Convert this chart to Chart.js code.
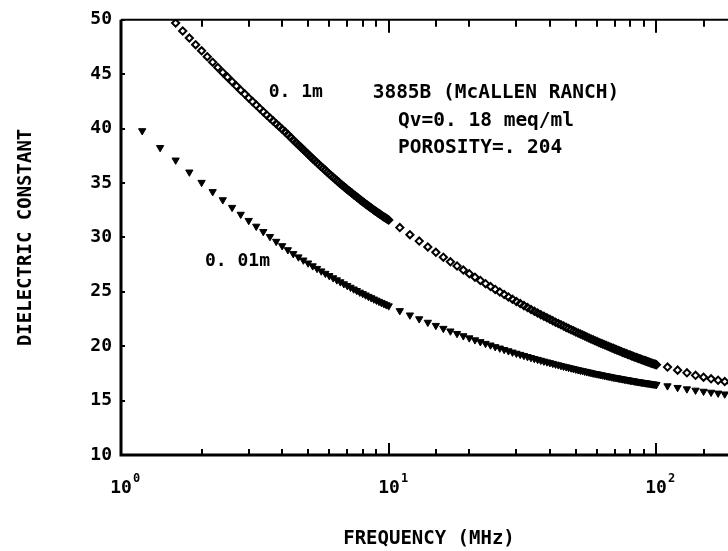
<!DOCTYPE html>
<html>
<head>
<meta charset="utf-8">
<script src="https://cdn.jsdelivr.net/npm/chart.js@4.4.1/dist/chart.umd.min.js"></script>
<style>
  html, body { margin: 0; padding: 0; background: #fff; overflow: hidden; }
  canvas { display: block; }
</style>
</head>
<body>
<canvas id="chart" width="745" height="551"></canvas>
<script>
// frequencies (MHz)
const freqDiamondLow = [
  1.6, 1.7, 1.8, 1.9, 2.0, 2.1, 2.2, 2.3, 2.4, 2.5,
  2.6, 2.7, 2.8, 2.9, 3.0, 3.1, 3.2, 3.3, 3.4, 3.5,
  3.6, 3.7, 3.8, 3.9, 4.0, 4.1, 4.2, 4.3, 4.4, 4.5,
  4.6, 4.7, 4.8, 4.9, 5.0, 5.1, 5.2, 5.3, 5.4, 5.5,
  5.6, 5.7, 5.8, 5.9, 6.0, 6.1, 6.2, 6.3, 6.4, 6.5,
  6.6, 6.7, 6.8, 6.9, 7.0, 7.1, 7.2, 7.3, 7.4, 7.5,
  7.6, 7.7, 7.8, 7.9, 8.0, 8.1, 8.2, 8.3, 8.4, 8.5,
  8.6, 8.7, 8.8, 8.9, 9.0, 9.1, 9.2, 9.3, 9.4, 9.5,
  9.6, 9.7, 9.8, 9.9, 10.0
];
const freqTriangleLow = [
  1.2, 1.4, 1.6, 1.8, 2.0, 2.2, 2.4, 2.6, 2.8, 3.0,
  3.2, 3.4, 3.6, 3.8, 4.0, 4.2, 4.4, 4.6, 4.8, 5.0,
  5.2, 5.4, 5.6, 5.8, 6.0, 6.2, 6.4, 6.6, 6.8, 7.0,
  7.2, 7.4, 7.6, 7.8, 8.0, 8.2, 8.4, 8.6, 8.8, 9.0,
  9.2, 9.4, 9.6, 9.8, 10.0
];
const freqMid = [
  11, 12, 13, 14, 15, 16, 17, 18, 19, 20,
  21, 22, 23, 24, 25, 26, 27, 28, 29, 30,
  31, 32, 33, 34, 35, 36, 37, 38, 39, 40,
  41, 42, 43, 44, 45, 46, 47, 48, 49, 50,
  51, 52, 53, 54, 55, 56, 57, 58, 59, 60,
  61, 62, 63, 64, 65, 66, 67, 68, 69, 70,
  71, 72, 73, 74, 75, 76, 77, 78, 79, 80,
  81, 82, 83, 84, 85, 86, 87, 88, 89, 90,
  91, 92, 93, 94, 95, 96, 97, 98, 99, 100
];
const freqHigh = [110, 120, 130, 140, 150, 160, 170, 180, 190];

// dielectric constant, 0.1m (diamonds)
const eps01Low = [
  49.70, 48.97, 48.32, 47.71, 47.15, 46.61, 46.10, 45.62, 45.16, 44.73,
  44.31, 43.91, 43.53, 43.17, 42.82, 42.48, 42.16, 41.85, 41.55, 41.26,
  40.98, 40.71, 40.44, 40.19, 39.94, 39.70, 39.45, 39.20, 38.96, 38.73,
  38.50, 38.28, 38.06, 37.85, 37.64, 37.44, 37.24, 37.05, 36.86, 36.68,
  36.50, 36.33, 36.16, 35.99, 35.83, 35.67, 35.52, 35.37, 35.22, 35.08,
  34.94, 34.80, 34.67, 34.54, 34.41, 34.29, 34.17, 34.05, 33.93, 33.82,
  33.71, 33.60, 33.49, 33.38, 33.28, 33.18, 33.08, 32.98, 32.88, 32.79,
  32.70, 32.61, 32.52, 32.43, 32.35, 32.27, 32.19, 32.11, 32.03, 31.95,
  31.88, 31.81, 31.74, 31.67, 31.60
];
const eps01Mid = [
  30.90, 30.25, 29.66, 29.12, 28.63, 28.18, 27.76, 27.37, 27.00, 26.66,
  26.34, 26.04, 25.75, 25.48, 25.22, 24.98, 24.75, 24.53, 24.32, 24.11,
  23.92, 23.73, 23.55, 23.38, 23.22, 23.06, 22.90, 22.76, 22.61, 22.47,
  22.34, 22.21, 22.09, 21.97, 21.85, 21.73, 21.62, 21.52, 21.41, 21.31,
  21.21, 21.12, 21.02, 20.93, 20.84, 20.76, 20.67, 20.59, 20.51, 20.43,
  20.35, 20.28, 20.20, 20.13, 20.06, 19.99, 19.93, 19.86, 19.80, 19.73,
  19.67, 19.61, 19.55, 19.49, 19.43, 19.38, 19.32, 19.27, 19.22, 19.16,
  19.11, 19.06, 19.01, 18.96, 18.92, 18.87, 18.82, 18.78, 18.73, 18.69,
  18.65, 18.61, 18.56, 18.52, 18.48, 18.44, 18.40, 18.37, 18.33, 18.29
];
const eps01High = [18.08, 17.80, 17.55, 17.32, 17.15, 17.00, 16.87, 16.75, 16.63];

// dielectric constant, 0.01m (triangles)
const eps001Low = [
  39.80, 38.25, 37.10, 36.00, 35.05, 34.20, 33.45, 32.75, 32.12, 31.55,
  31.02, 30.53, 30.07, 29.63, 29.23, 28.86, 28.50, 28.20, 27.91, 27.64,
  27.38, 27.14, 26.91, 26.69, 26.48, 26.28, 26.09, 25.91, 25.73, 25.57,
  25.41, 25.25, 25.11, 24.96, 24.83, 24.70, 24.57, 24.45, 24.33, 24.22,
  24.11, 24.00, 23.90, 23.80, 23.70
];
const eps001Mid = [
  23.26, 22.86, 22.51, 22.19, 21.90, 21.63, 21.39, 21.16, 20.95, 20.76,
  20.58, 20.41, 20.25, 20.10, 19.95, 19.82, 19.69, 19.57, 19.45, 19.34,
  19.24, 19.14, 19.04, 18.95, 18.86, 18.78, 18.70, 18.62, 18.55, 18.48,
  18.41, 18.34, 18.28, 18.21, 18.15, 18.10, 18.04, 17.99, 17.93, 17.88,
  17.83, 17.78, 17.74, 17.69, 17.65, 17.61, 17.56, 17.52, 17.48, 17.45,
  17.41, 17.37, 17.34, 17.30, 17.27, 17.24, 17.21, 17.17, 17.14, 17.11,
  17.09, 17.06, 17.03, 17.00, 16.98, 16.95, 16.93, 16.90, 16.88, 16.85,
  16.83, 16.81, 16.78, 16.76, 16.74, 16.72, 16.70, 16.68, 16.66, 16.64,
  16.62, 16.61, 16.59, 16.57, 16.55, 16.53, 16.52, 16.50, 16.49, 16.47
];
const eps001High = [16.35, 16.20, 16.07, 15.95, 15.85, 15.76, 15.68, 15.60, 15.53];

const yTicks = [10, 15, 20, 25, 30, 35, 40, 45, 50];

// text placed in data coordinates (MHz, dielectric constant)
const notes = [
  { text: '0. 1m', f: 3.56, v: 43.3, size: 18 },
  { text: '0. 01m', f: 2.06, v: 27.8, size: 18 },
  { text: '3885B (McALLEN RANCH)', f: 8.71, v: 43.3, size: 19.5 },
  { text: 'Qv=0. 18 meq/ml', f: 10.83, v: 40.7, size: 19.5 },
  { text: 'POROSITY=. 204', f: 10.83, v: 38.25, size: 19.5 }
];

const FONT = '"DejaVu Sans Mono", "Liberation Mono", monospace';

const toPoints = (xs, ys) => xs.map((x, i) => ({ x: x, y: ys[i] }));

const frame = {
  id: 'frame',
  afterDraw(chart) {
    const { ctx, chartArea: a, scales: { x, y } } = chart;
    ctx.save();
    ctx.strokeStyle = '#000';
    ctx.fillStyle = '#000';

    // axes: heavy left/bottom, lighter top/right
    ctx.lineWidth = 3;
    ctx.beginPath();
    ctx.moveTo(a.left, a.top);
    ctx.lineTo(a.left, a.bottom);
    ctx.lineTo(a.right, a.bottom);
    ctx.stroke();
    ctx.lineWidth = 2;
    ctx.beginPath();
    ctx.moveTo(a.left, a.top);
    ctx.lineTo(a.right, a.top);
    ctx.lineTo(a.right, a.bottom);
    ctx.stroke();

    // log ticks, inward on bottom and top
    ctx.lineWidth = 2;
    x.ticks.forEach(t => {
      const px = Math.round(x.getPixelForValue(t.value));
      const len = t.major ? 12 : 6;
      ctx.beginPath();
      ctx.moveTo(px, a.bottom);
      ctx.lineTo(px, a.bottom - len);
      ctx.moveTo(px, a.top);
      ctx.lineTo(px, a.top + len + 1);
      ctx.stroke();
      if (t.major) {
        const exp = Math.round(Math.log10(t.value));
        ctx.font = 'bold 18px ' + FONT;
        ctx.textAlign = 'center';
        ctx.textBaseline = 'alphabetic';
        ctx.fillText('10', px, a.bottom + 38);
        ctx.font = 'bold 12px ' + FONT;
        ctx.textAlign = 'left';
        ctx.fillText(String(exp), px + 12, a.bottom + 27);
      }
    });

    // short inward ticks on y
    y.ticks.forEach(t => {
      const py = Math.round(y.getPixelForValue(t.value));
      ctx.beginPath();
      ctx.moveTo(a.left, py);
      ctx.lineTo(a.left + 4, py);
      ctx.stroke();
    });

    // annotations
    ctx.textAlign = 'left';
    ctx.textBaseline = 'middle';
    notes.forEach(n => {
      ctx.font = 'bold ' + n.size + 'px ' + FONT;
      ctx.fillText(n.text, x.getPixelForValue(n.f), y.getPixelForValue(n.v));
    });

    // axis titles
    ctx.font = 'bold 19px ' + FONT;
    ctx.textAlign = 'center';
    ctx.fillText('FREQUENCY (MHz)', (a.left + a.right) / 2, 539);
    ctx.translate(26, (a.top + a.bottom) / 2);
    ctx.rotate(-Math.PI / 2);
    ctx.fillText('DIELECTRIC CONSTANT', 0, 0);
    ctx.restore();
  }
};

new Chart(document.getElementById('chart'), {
  type: 'scatter',
  data: {
    datasets: [
      {
        label: '0.1m',
        data: toPoints(freqDiamondLow.concat(freqMid, freqHigh), eps01Low.concat(eps01Mid, eps01High)),
        pointStyle: 'rectRot',
        pointRadius: 3.6,
        borderWidth: 2,
        borderColor: '#000',
        backgroundColor: 'rgba(0,0,0,0)'
      },
      {
        label: '0.01m',
        data: toPoints(freqTriangleLow.concat(freqMid, freqHigh), eps001Low.concat(eps001Mid, eps001High)),
        pointStyle: 'triangle',
        rotation: 180,
        pointRadius: 4.2,
        borderWidth: 1,
        borderColor: '#000',
        backgroundColor: '#000'
      }
    ]
  },
  options: {
    responsive: false,
    animation: false,
    events: [],
    layout: { padding: { top: 16, right: 8, left: 0, bottom: 0 } },
    plugins: { legend: { display: false }, tooltip: { enabled: false } },
    scales: {
      x: {
        type: 'logarithmic',
        min: 1,
        max: 200,
        ticks: { display: false },
        grid: { display: false, drawTicks: false },
        border: { display: false },
        afterFit: s => { s.height = 96; }
      },
      y: {
        min: 10,
        max: 50,
        afterBuildTicks: s => { s.ticks = yTicks.map(v => ({ value: v })); },
        ticks: {
          padding: 9,
          color: '#000',
          font: { family: FONT, weight: 'bold', size: 18 }
        },
        grid: { display: false, drawTicks: false },
        border: { display: false },
        afterFit: s => { s.width = 121; }
      }
    }
  },
  plugins: [frame]
});
</script>
</body>
</html>
